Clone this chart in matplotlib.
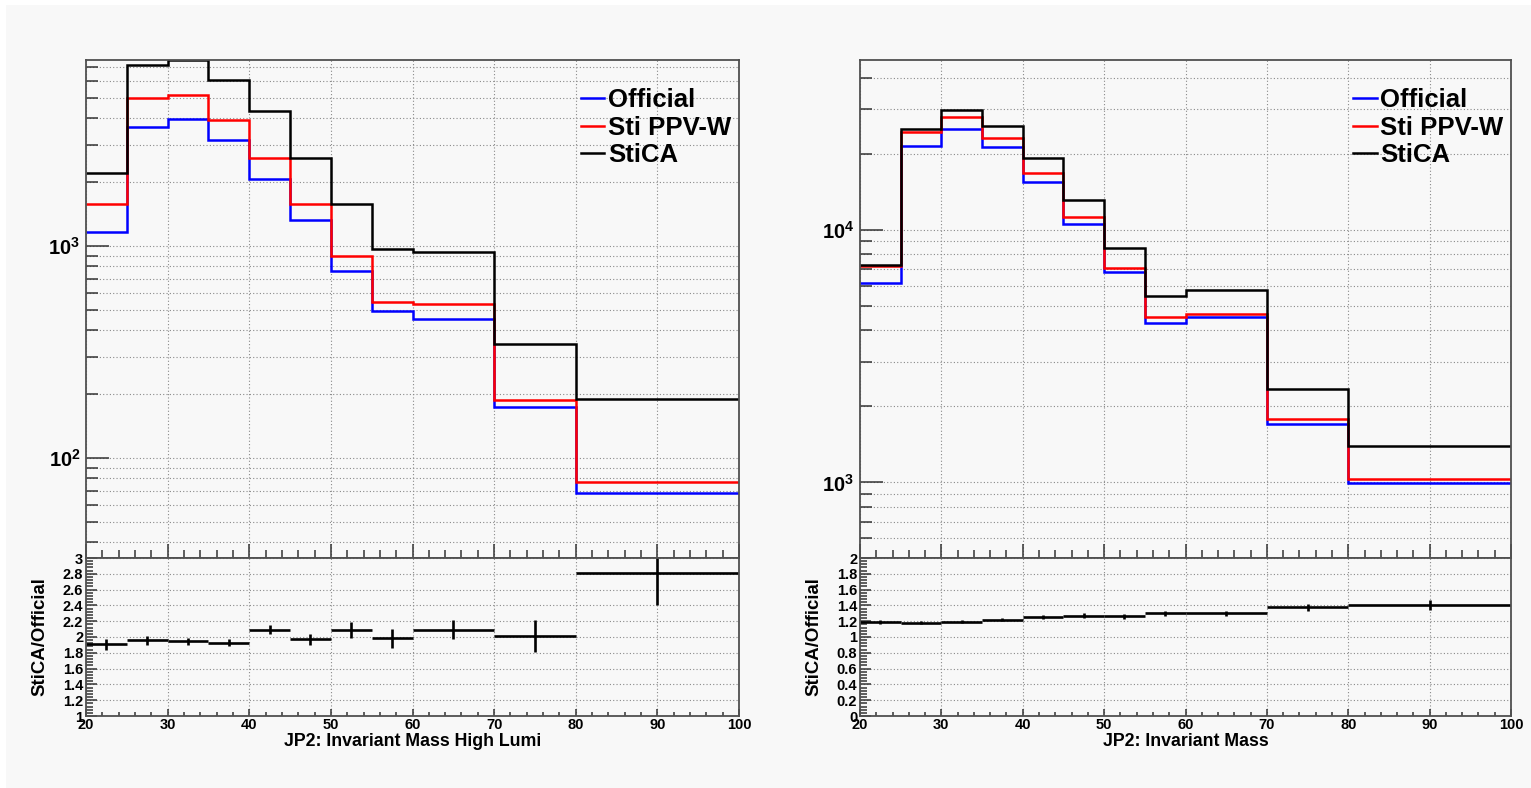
import matplotlib
matplotlib.use('Agg')
import matplotlib.pyplot as plt
import numpy as np
from matplotlib.ticker import LogLocator, MultipleLocator, FuncFormatter, NullFormatter
from matplotlib.patches import Rectangle
from matplotlib.lines import Line2D

# ---------------- data ----------------
edges = [20, 25, 30, 35, 40, 45, 50, 55, 60, 70, 80, 100]

left_official = [1160, 3640, 3990, 3164, 2070, 1321, 760, 492, 451, 173, 68]
left_stippvw = [1584, 4977, 5179, 3945, 2610, 1584, 894, 542, 531, 187, 76.7]
left_stica = [2210, 7115, 7520, 6095, 4315, 2610, 1573, 971, 940, 344, 189]
left_ratio = [1.906, 1.957, 1.945, 1.93, 2.094, 1.974, 2.09, 1.987, 2.09, 2.01, 2.81]
left_ratio_err = [0.075, 0.057, 0.045, 0.045, 0.06, 0.07, 0.10, 0.12, 0.12, 0.20, 0.40]

right_official = [6150, 21420, 25170, 21290, 15420, 10530, 6790, 4285, 4530, 1706, 995]
right_stippvw = [7175, 24430, 28060, 23230, 16780, 11230, 7060, 4500, 4650, 1782, 1030]
right_stica = [7280, 25000, 29750, 25760, 19320, 13130, 8490, 5460, 5780, 2345, 1393]
right_ratio = [1.191, 1.179, 1.196, 1.221, 1.255, 1.272, 1.26, 1.30, 1.30, 1.374, 1.404]
right_ratio_err = [0.03, 0.02, 0.02, 0.02, 0.025, 0.03, 0.03, 0.035, 0.035, 0.05, 0.068]

series_labels = ['Official', 'Sti PPV-W', 'StiCA']
series_colors = ['#0000ff', '#ff0000', '#000000']
xtitles = ['JP2: Invariant Mass High Lumi', 'JP2: Invariant Mass']
ratio_title = 'StiCA/Official'

# ---------------- style ----------------
W, H = 1531, 788
DPI = 100
FONT = ['Liberation Sans', 'DejaVu Sans']
plt.rcParams['font.family'] = FONT
plt.rcParams['mathtext.fontset'] = 'custom'
plt.rcParams['mathtext.rm'] = 'Liberation Sans:bold'
plt.rcParams['mathtext.bf'] = 'Liberation Sans:bold'
plt.rcParams['mathtext.it'] = 'Liberation Sans:bold'

BG = '#f8f8f8'
FRAME = '#505050'
GRIDC = '#8a8a8a'

fig = plt.figure(figsize=(W / DPI, H / DPI), dpi=DPI, facecolor='white')
fig.patches.append(Rectangle((6 / W, 0), 1 - 6 / W, 1 - 5 / H, transform=fig.transFigure,
                             facecolor=BG, edgecolor='none', zorder=-10))


def px_rect(x0, y0, x1, y1):
    return [x0 / W, 1 - y1 / H, (x1 - x0) / W, (y1 - y0) / H]


panels = [
    dict(x0=86, x1=739, data=(left_official, left_stippvw, left_stica),
         ratio=left_ratio, rerr=left_ratio_err, ylim=(33.7, 7540), rlim=(1, 3)),
    dict(x0=860, x1=1511, data=(right_official, right_stippvw, right_stica),
         ratio=right_ratio, rerr=right_ratio_err, ylim=(502, 47100), rlim=(0, 2)),
]

edges_a = np.array(edges, dtype=float)
centers = 0.5 * (edges_a[1:] + edges_a[:-1])
halfw = 0.5 * (edges_a[1:] - edges_a[:-1])

dot = (0, (1, 2))

for i, p in enumerate(panels):
    ax = fig.add_axes(px_rect(p['x0'], 60, p['x1'], 558))
    axr = fig.add_axes(px_rect(p['x0'], 558, p['x1'], 716))
    for a in (ax, axr):
        a.set_facecolor(BG)
        for s in a.spines.values():
            s.set_color(FRAME)
            s.set_linewidth(1.3)
        a.set_xlim(20, 100)
        a.set_axisbelow(True)

    # top histograms
    for vals, col, lab in zip(p['data'], series_colors, series_labels):
        ax.stairs(vals, edges_a, baseline=None, color=col, linewidth=1.8, label=lab)
    ax.set_yscale('log')
    ax.set_ylim(*p['ylim'])
    ax.yaxis.set_major_locator(LogLocator(base=10, numticks=10))
    ax.yaxis.set_minor_locator(LogLocator(base=10, subs=np.arange(2, 10), numticks=20))
    ax.yaxis.set_major_formatter(FuncFormatter(lambda v, pos: r'$\mathbf{10^{%d}}$' % int(round(np.log10(v)))))
    ax.yaxis.set_minor_formatter(NullFormatter())
    ax.xaxis.set_major_locator(MultipleLocator(10))
    ax.xaxis.set_minor_locator(MultipleLocator(2))
    ax.tick_params(axis='x', which='both', direction='in', labelbottom=False, color='#333333', width=1.1)
    ax.tick_params(axis='x', which='major', length=10)
    ax.tick_params(axis='x', which='minor', length=5.5)
    ax.tick_params(axis='y', which='both', direction='in', color='#333333', width=1.1, labelsize=14.5, pad=4)
    ax.tick_params(axis='y', which='major', length=16.5)
    ax.tick_params(axis='y', which='minor', length=8.6)
    ax.grid(True, which='both', axis='y', color=GRIDC, linestyle=dot, linewidth=0.8)
    ax.grid(True, which='major', axis='x', color=GRIDC, linestyle=dot, linewidth=0.8)

    handles = [Line2D([], [], color=c, linewidth=1.8) for c in series_colors]
    ax.legend(handles, series_labels, loc='upper left', bbox_to_anchor=(0.758, 0.943),
              frameon=False, handlelength=0.9, handletextpad=0.15, labelspacing=0.13,
              borderpad=0, borderaxespad=0,
              prop={'family': 'Liberation Sans', 'weight': 'bold', 'size': 18.5})

    # ratio panel
    axr.errorbar(centers, p['ratio'], xerr=halfw, yerr=p['rerr'], fmt='none',
                 ecolor='black', elinewidth=1.9, capsize=0)
    axr.set_ylim(*p['rlim'])
    axr.yaxis.set_major_locator(MultipleLocator(0.2))
    axr.yaxis.set_minor_locator(MultipleLocator(0.04))
    axr.yaxis.set_major_formatter(FuncFormatter(lambda v, pos: ('%.1f' % v).rstrip('0').rstrip('.') if abs(v) > 1e-9 else '0'))
    axr.xaxis.set_major_locator(MultipleLocator(10))
    axr.xaxis.set_minor_locator(MultipleLocator(2))
    axr.tick_params(axis='both', which='both', direction='in', color='#333333', width=1.1)
    axr.tick_params(axis='y', which='major', length=8, labelsize=10.5, pad=2)
    axr.tick_params(axis='y', which='minor', length=5)
    axr.tick_params(axis='x', which='major', length=5, labelsize=10.5, pad=1.5)
    axr.tick_params(axis='x', which='minor', length=3)
    for lbl in axr.get_xticklabels() + axr.get_yticklabels():
        lbl.set_fontweight('bold')
    axr.grid(True, which='major', axis='both', color=GRIDC, linestyle=dot, linewidth=0.8)
    axr.set_xlabel(xtitles[i], fontweight='bold', fontsize=12.8, labelpad=1)
    axr.set_ylabel(ratio_title, fontweight='bold', fontsize=13.4)
    axr.yaxis.set_label_coords(-38 / (p['x1'] - p['x0']), 0.5)

fig.savefig('out.png', dpi=DPI, facecolor='white')
